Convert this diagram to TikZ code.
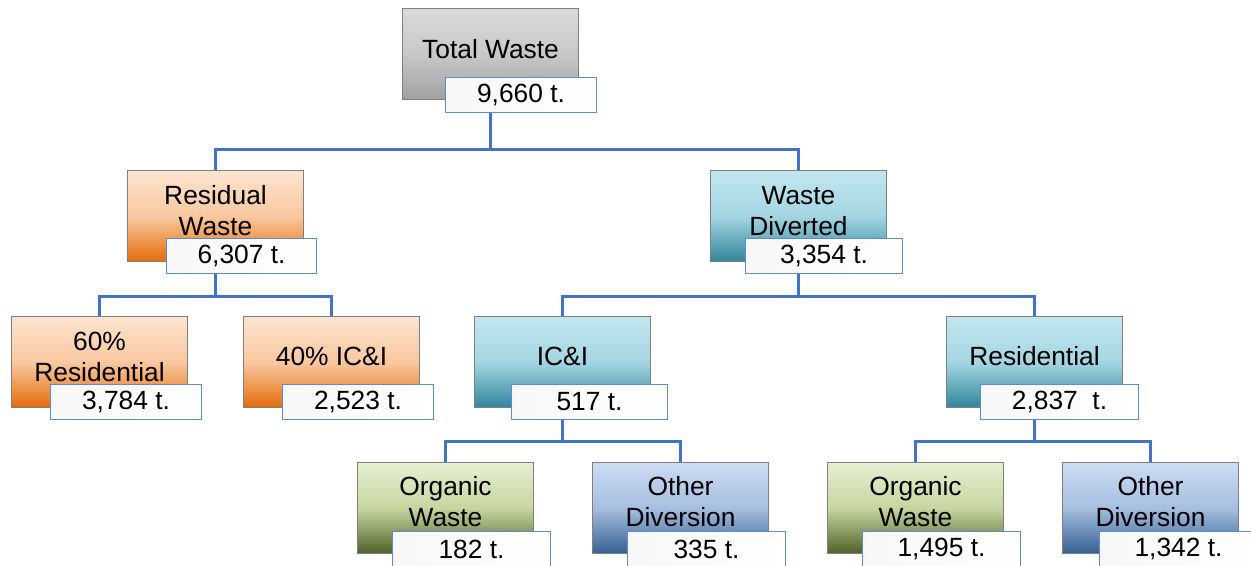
\documentclass[tikz,border=0pt]{standalone}
\usepackage{fontspec}
\setmainfont{Liberation Sans}
\definecolor{linkblue}{HTML}{4472C4}
\definecolor{valblue}{HTML}{5B8BD0}
\definecolor{boxedge}{HTML}{7F7F7F}
\tikzset{
  box/.style={draw=boxedge, line width=0.6pt, anchor=north west, inner sep=0pt,
    minimum width=3.52cm, minimum height=1.82cm},
  greybox/.style={box, top color={rgb,255:red,218;green,218;blue,218}, bottom color={rgb,255:red,160;green,160;blue,160}, middle color={rgb,255:red,200;green,200;blue,200}},
  orangebox/.style={box, top color={rgb,255:red,253;green,228;blue,208}, bottom color={rgb,255:red,228;green,108;blue,10}, middle color={rgb,255:red,249;green,200;blue,160}},
  tealbox/.style={box, top color={rgb,255:red,194;green,230;blue,239}, bottom color={rgb,255:red,49;green,133;blue,155}, middle color={rgb,255:red,164;green,214;blue,226}},
  greenbox/.style={box, top color={rgb,255:red,230;green,239;blue,210}, bottom color={rgb,255:red,79;green,98;blue,40}, middle color={rgb,255:red,198;green,214;blue,160}},
  bluebox/.style={box, top color={rgb,255:red,204;green,220;blue,242}, bottom color={rgb,255:red,54;green,96;blue,146}, middle color={rgb,255:red,166;green,190;blue,224}},
  txt/.style={align=center, inner sep=0pt, font=\fontsize{15}{17.6}\selectfont},
  val/.style={draw=valblue, line width=0.6pt, anchor=north west, inner sep=0pt,
    left color=black!3, right color=white, minimum height=0.7cm,
    font=\fontsize{15}{17.6}\selectfont},
  link/.style={draw=linkblue, line width=1.7pt}
}
\begin{document}
\begin{tikzpicture}[x=0.02cm, y=-0.02cm]
  \useasboundingbox (0,0) rectangle (1251,565);
  \clip (0,0) rectangle (1251,565);

  % level 1
  \node[greybox] (tw) at (402,8) {};
  \node[txt] (twt) at ([yshift=0.1cm]tw.center) {Total Waste};
  \node[val, minimum width=3.02cm] (twv) at (445,77) {9,660 t.};

  % level 2
  \node[orangebox] (rw) at (127,170) {};
  \node[txt] (rwt) at ([yshift=0.1cm]rw.center) {Residual\\Waste};
  \node[tealbox] (wd) at (710,170) {};
  \node[txt] (wdt) at ([yshift=0.1cm]wd.center) {Waste\\Diverted};

  % level 3
  \node[orangebox] (rr) at (11,316) {};
  \node[txt] (rrt) at ([yshift=0.1cm]rr.center) {60\%\\Residential};
  \node[orangebox] (ri) at (243,316) {};
  \node[txt] (rit) at ([yshift=0.11cm]ri.center) {40\% IC\&I};
  \node[tealbox] (dic) at (474,316) {};
  \node[txt] (dict) at ([yshift=0.11cm]dic.center) {IC\&I};
  \node[tealbox] (dres) at (946,316) {};
  \node[txt] (drest) at ([yshift=0.11cm]dres.center) {Residential};

  % level 4
  \node[greenbox] (io) at (357,462) {};
  \node[txt] (iot) at ([yshift=0.12cm]io.center) {Organic\\Waste};
  \node[bluebox] (id) at (592,462) {};
  \node[txt] (idt) at ([yshift=0.12cm]id.center) {Other\\Diversion};
  \node[greenbox] (ro) at (827,462) {};
  \node[txt] (rot) at ([yshift=0.12cm]ro.center) {Organic\\Waste};
  \node[bluebox] (rd) at (1062,462) {};
  \node[txt] (rdt) at ([yshift=0.12cm]rd.center) {Other\\Diversion};

  % value boxes
  \node[val, minimum width=3.00cm] (rwv) at (166,238) {6,307 t.};
  \node[val, minimum width=3.14cm] (wdv) at (745,238) {3,354 t.};
  \node[val, minimum width=3.02cm] (rrv) at (50,384) {3,784 t.};
  \node[val, minimum width=3.02cm] (riv) at (282,384) {2,523 t.};
  \node[val, minimum width=3.12cm] (dicv) at (511,384) {517 t.};
  \node[val, minimum width=3.16cm] (dresv) at (980,384) {2,837~~t.};
  \node[val, minimum width=3.16cm] (iov) at (392,531) {182 t.};
  \node[val, minimum width=3.16cm] (idv) at (627,531) {335 t.};
  \node[val, minimum width=3.16cm] (rov) at (862,531) {1,495 t.};
  \node[val, minimum width=3.16cm] (rdv) at (1099,531) {1,342 t.};

  % connectors
  \draw[link] (tw.center |- twv.south) -- ++(0,36) -| (rw.north);
  \draw[link] (tw.center |- twv.south) -- ++(0,36) -| (wd.north);
  \draw[link] (rw.center |- rwv.south) -- ++(0,22) -| (rr.north);
  \draw[link] (rw.center |- rwv.south) -- ++(0,22) -| (ri.north);
  \draw[link] (wd.center |- wdv.south) -- ++(0,22) -| (dic.north);
  \draw[link] (wd.center |- wdv.south) -- ++(0,22) -| (dres.north);
  \draw[link] (dic.center |- dicv.south) -- ++(0,21) -| (io.north);
  \draw[link] (dic.center |- dicv.south) -- ++(0,21) -| (id.north);
  \draw[link] (dres.center |- dresv.south) -- ++(0,21) -| (ro.north);
  \draw[link] (dres.center |- dresv.south) -- ++(0,21) -| (rd.north);
\end{tikzpicture}
\end{document}
